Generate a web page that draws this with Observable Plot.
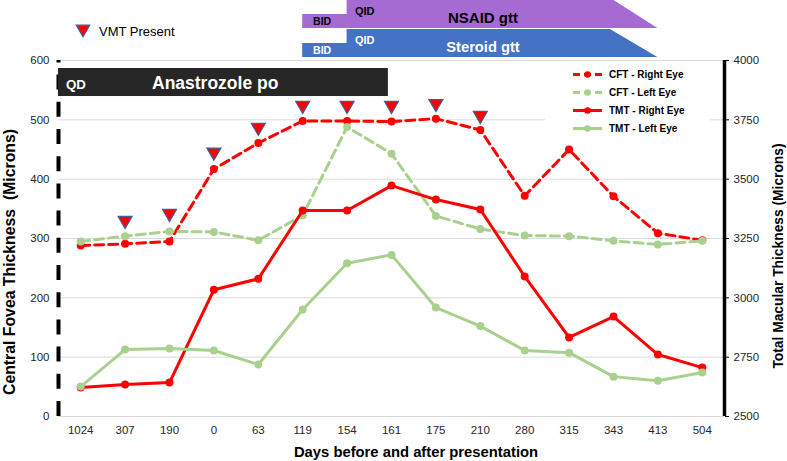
<!DOCTYPE html>
<html>
<head>
<meta charset="utf-8">
<script src="https://cdn.jsdelivr.net/npm/d3@7"></script>
<script src="https://cdn.jsdelivr.net/npm/@observablehq/plot@0.6"></script>
<style>
  html, body { margin: 0; padding: 0; background: #fff; }
  #chart svg { display: block; }
</style>
</head>
<body>
<div id="chart"></div>
<script>
// ---- Data ----
const categories = ["1024","307","190","0","63","119","154","161","175","210","280","315","343","413","504"];
const cftRight = [288,291,295,417,461,498,498,497,502,483,372,450,371,309,297];
const cftLeft  = [295,304,312,311,297,339,488,443,338,316,305,304,296,290,296];
const tmtRight = [2622,2635,2643,3034,3080,3368,3368,3473,3414,3372,3090,2833,2921,2761,2706];
const tmtLeft  = [2626,2782,2786,2778,2719,2951,3146,3181,2959,2881,2778,2769,2668,2651,2685];
const vmtDays   = ["307","190","0","63","119","154","161","175","210"];
const vmtMarker = [327,339,442,484,521,521,521,524,504];
const leftTicks  = [0,100,200,300,400,500,600];
const rightTicks = [2500,2750,3000,3250,3500,3750,4000];
// treatment schedule (category at which each phase begins / ends)
const nsaidPhases   = {bid:"119", qid:"154", taper:"343", end:"413"};
const steroidPhases = {bid:"119", qid:"154", taper:"343", end:"413"};
const anastrozole   = {start:"1024", end:"161"};

// ---- helpers ----
const idx = c => categories.indexOf(c);
const tmtToLeft = t => (t - rightTicks[0]) / (rightTicks[rightTicks.length-1] - rightTicks[0]) * 600;
const series = arr => arr.map((v, i) => ({i, v}));
const tmtSeries = arr => arr.map((v, i) => ({i, v: tmtToLeft(v)}));

const RED = "#ff0000", GREEN = "#a9d18e", PURPLE = "#a66bd3", BLUE = "#4472c4", DARK = "#262626";

const triangleDown = {
  draw(ctx, size) {
    const s = Math.sqrt(size / (Math.sqrt(3) / 4));
    const h = s * Math.sqrt(3) / 2;
    ctx.moveTo(-s / 2, -h / 2);
    ctx.lineTo(s / 2, -h / 2);
    ctx.lineTo(0, h / 2);
    ctx.closePath();
  }
};

function phaseShape(p, lo, bidHi, qidHi) {
  return [
    {x: idx(p.bid), lo, hi: bidHi},
    {x: idx(p.qid), lo, hi: bidHi},
    {x: idx(p.qid), lo, hi: qidHi},
    {x: idx(p.taper) - 0.07, lo, hi: qidHi},
    {x: idx(p.end), lo, hi: lo}
  ];
}

const plot = Plot.plot({
  width: 787,
  height: 461,
  marginLeft: 58,
  marginRight: 63,
  marginTop: 60,
  marginBottom: 45,
  style: {fontFamily: "'Liberation Sans', Arial, sans-serif", fontSize: "11.5px", color: "#262626", background: "#fff", overflow: "visible"},
  x: {type: "linear", domain: [-0.5, categories.length - 0.5]},
  y: {domain: [0, 600]},
  marks: [
    Plot.gridY(leftTicks, {stroke: "#d9d9d9", strokeOpacity: 1, strokeWidth: 1}),
    Plot.axisY(leftTicks, {anchor: "left", tickSize: 0, tickPadding: 9, label: null}),
    Plot.axisY(leftTicks, {anchor: "right", tickSize: 4, tickPadding: 5, stroke: "black",
      tickFormat: (d, k) => String(rightTicks[leftTicks.indexOf(d)]), label: null}),
    Plot.axisX(d3.range(categories.length), {tickSize: 0, tickPadding: 9, tickFormat: i => categories[i], label: null}),
    Plot.ruleX([{x: -0.5, y1: 0, y2: 600}], {x: "x", y1: "y1", y2: "y2", stroke: "black", strokeWidth: 4, strokeDasharray: "15,12.2"}),
    Plot.ruleX([{x: categories.length - 0.5, y1: 0, y2: 600}], {x: "x", y1: "y1", y2: "y2", stroke: "black", strokeWidth: 3.5}),
    // treatments
    Plot.areaY(phaseShape(nsaidPhases, 653.9, 677.5, 705), {x: "x", y1: "lo", y2: "hi", fill: PURPLE, curve: "linear"}),
    Plot.areaY(phaseShape(steroidPhases, 605.1, 628.7, 652.2), {x: "x", y1: "lo", y2: "hi", fill: BLUE, curve: "linear"}),
    Plot.rect([{x1: idx(anastrozole.start) - 0.5, x2: idx(anastrozole.end) - 0.07, y1: 539.3, y2: 586.5}],
      {x1: "x1", x2: "x2", y1: "y1", y2: "y2", fill: DARK}),
    // series
    Plot.line(series(cftRight), {x: "i", y: "v", stroke: RED, strokeWidth: 3, strokeDasharray: "9,5"}),
    Plot.dot(series(cftRight), {x: "i", y: "v", fill: RED, r: 4}),
    Plot.line(series(cftLeft), {x: "i", y: "v", stroke: GREEN, strokeWidth: 3, strokeDasharray: "9,5"}),
    Plot.dot(series(cftLeft), {x: "i", y: "v", fill: GREEN, r: 4}),
    Plot.line(tmtSeries(tmtRight), {x: "i", y: "v", stroke: RED, strokeWidth: 3}),
    Plot.dot(tmtSeries(tmtRight), {x: "i", y: "v", fill: RED, r: 4}),
    Plot.line(tmtSeries(tmtLeft), {x: "i", y: "v", stroke: GREEN, strokeWidth: 3}),
    Plot.dot(tmtSeries(tmtLeft), {x: "i", y: "v", fill: GREEN, r: 4}),
    Plot.dot(vmtDays.map((d, k) => ({i: idx(d), v: vmtMarker[k]})),
      {x: "i", y: "v", symbol: triangleDown, r: 5.2, fill: RED, stroke: "#3e5c9a", strokeWidth: 1.2})
  ]
});

document.getElementById("chart").appendChild(plot);

// ---- annotations / legends ----
const svg = d3.select(plot);
const FONT = "'Liberation Sans', Arial, sans-serif";
function txt(x, y, s, opts = {}) {
  const t = svg.append("text").attr("x", x).attr("y", y).text(s)
    .attr("font-family", opts.family || FONT)
    .attr("font-size", opts.size || 12)
    .attr("font-weight", opts.weight || "normal")
    .attr("fill", opts.fill || "black")
    .attr("text-anchor", opts.anchor || "start");
  if (opts.rotate) t.attr("transform", `rotate(${opts.rotate},${x},${y})`);
  return t;
}

// treatment labels
txt(66, 89, "QD", {size: 13.3, weight: "bold", fill: "white"});
txt(152, 89, "Anastrozole po", {size: 17.5, weight: "bold", fill: "white"});
txt(313, 25, "BID", {size: 10.6, weight: "bold"});
txt(355, 15, "QID", {size: 11, weight: "bold"});
txt(483, 23, "NSAID gtt", {size: 15, weight: "bold", anchor: "middle"});
txt(313, 54, "BID", {size: 10.6, weight: "bold", fill: "white"});
txt(355, 44, "QID", {size: 11, weight: "bold", fill: "white"});
txt(483, 52, "Steroid gtt", {size: 14.7, weight: "bold", fill: "white", anchor: "middle"});

// VMT legend
svg.append("path").attr("transform", "translate(83,31)")
  .attr("d", d3.symbol(triangleDown, Math.PI * 5 * 5)())
  .attr("fill", RED).attr("stroke", "#3e5c9a").attr("stroke-width", 1.2);
txt(99, 35.5, "VMT Present", {size: 13});

// series legend
svg.append("rect").attr("x", 545).attr("y", 63).attr("width", 165).attr("height", 75).attr("fill", "white");
const legendItems = [
  {label: "CFT - Right Eye", color: RED, dash: "7,4"},
  {label: "CFT - Left Eye", color: GREEN, dash: "7,4"},
  {label: "TMT - Right Eye", color: RED, dash: null},
  {label: "TMT - Left Eye", color: GREEN, dash: null}
];
legendItems.forEach((d, k) => {
  const y = 74.5 + k * 18;
  const l = svg.append("line").attr("x1", 573).attr("x2", 602).attr("y1", y).attr("y2", y)
    .attr("stroke", d.color).attr("stroke-width", 3);
  if (d.dash) l.attr("stroke-dasharray", d.dash);
  svg.append("circle").attr("cx", 587.5).attr("cy", y).attr("r", 3.3).attr("fill", d.color);
  txt(609, y + 3.6, d.label, {size: 10, weight: "bold"});
});

// axis titles
txt(15, 262, "Central Fovea Thickness  (Microns)", {size: 15.8, weight: "bold", anchor: "middle", rotate: -90});
txt(783, 256, "Total Macular Thickness (Microns)", {size: 13.8, weight: "bold", anchor: "middle", rotate: -90});
txt(416, 457, "Days before and after presentation", {size: 14.8, weight: "bold", anchor: "middle"});
</script>
</body>
</html>
